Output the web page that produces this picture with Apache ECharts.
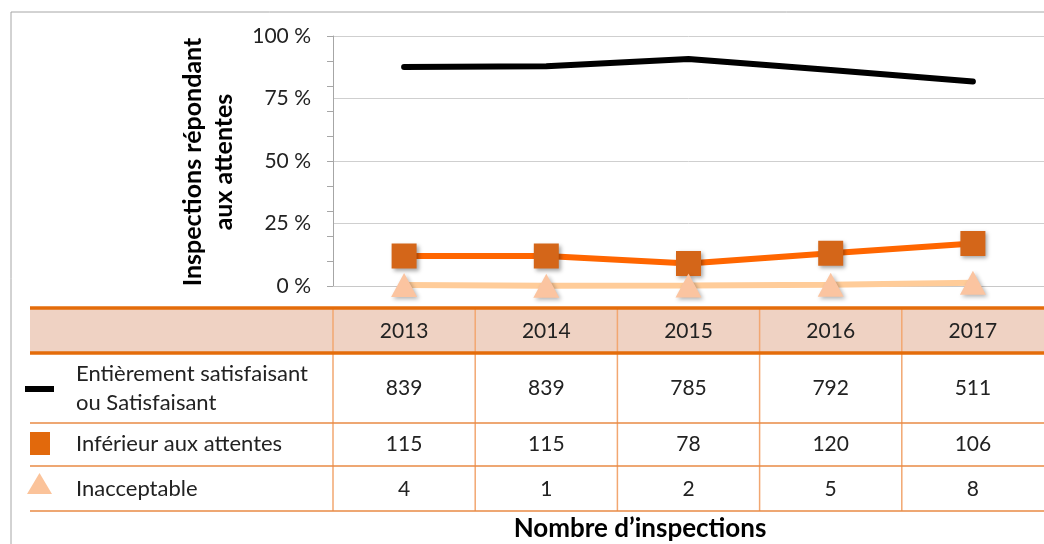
<!DOCTYPE html>
<html>
<head>
<meta charset="utf-8">
<script src="https://cdn.jsdelivr.net/npm/echarts@6/dist/echarts.min.js"></script>
<style>
  html, body { margin:0; padding:0; background:#fff; }
  #main { width:1044px; height:544px; }
</style>
</head>
<body>
<div id="main"></div>
<script>
// categories
const years = ['2013', '2014', '2015', '2016', '2017'];
const rowLabels = [['Entièrement satisfaisant', 'ou Satisfaisant'], ['Inférieur aux attentes'], ['Inacceptable']];
// counts shown in the table
const countSat = [839, 839, 785, 792, 511];
const countInf = [115, 115, 78, 120, 106];
const countInac = [4, 1, 2, 5, 8];
// percentages
const pctSat = [87.6, 87.9, 90.8, 86.4, 81.8];
const pctInf = [12.0, 12.0, 9.0, 13.1, 17.0];
const pctInac = [0.4, 0.1, 0.2, 0.5, 1.3];
const yLabelTicks = [0, 25, 50, 75, 100];

const FONT = 'Lato, "Open Sans", sans-serif';
const ORANGE = '#E46C0A';
const rows = [countSat, countInf, countInac];
// table layout (pixels)
const tTop = 308, tHead = 353, rowY = [388, 444, 489], rowLines = [423, 466, 511];

const chart = echarts.init(document.getElementById('main'));

function renderCell(params, api) {
  const i = api.value(0);
  const cx = api.coord([i, 0])[0];
  const bw = api.size([1, 0])[0];
  const kids = [];
  kids.push({ type:'line', shape:{ x1:cx - bw/2, y1:tTop, x2:cx - bw/2, y2:rowLines[2] }, style:{ stroke:'#F2A771', lineWidth:1.5 } });
  kids.push({ type:'text', style:{ text:years[i], x:cx, y:(tTop + tHead)/2 + 1, align:'center', verticalAlign:'middle', fontSize:21, fontFamily:FONT, fill:'#222' } });
  rows.forEach((r, k) => {
    kids.push({ type:'text', style:{ text:String(r[i]), x:cx, y:rowY[k], align:'center', verticalAlign:'middle', fontSize:21, fontFamily:FONT, fill:'#222' } });
  });
  return { type:'group', children:kids };
}

const labelStyle = { fontSize:22, fontFamily:FONT, fill:'#222', verticalAlign:'middle' };

const graphics = [
  { type:'rect', shape:{ x:11, y:12, width:1100, height:600 }, style:{ fill:'none', stroke:'#A6A6A6', lineWidth:1 }, z:0 },
  { type:'rect', shape:{ x:30, y:tTop, width:1020, height:tHead - tTop }, style:{ fill:'#EFD2C3' }, z:0 },
  { type:'line', shape:{ x1:30, y1:tTop, x2:1050, y2:tTop }, style:{ stroke:ORANGE, lineWidth:3.5 }, z:10 },
  { type:'line', shape:{ x1:30, y1:tHead, x2:1050, y2:tHead }, style:{ stroke:ORANGE, lineWidth:3.5 }, z:10 },
  { type:'line', shape:{ x1:30, y1:rowLines[0], x2:1050, y2:rowLines[0] }, style:{ stroke:'#E98A45', lineWidth:1.5 }, z:10 },
  { type:'line', shape:{ x1:30, y1:rowLines[1], x2:1050, y2:rowLines[1] }, style:{ stroke:'#E98A45', lineWidth:1.5 }, z:10 },
  { type:'line', shape:{ x1:30, y1:rowLines[2], x2:1050, y2:rowLines[2] }, style:{ stroke:'#E98A45', lineWidth:1.5 }, z:10 },
  // legend keys
  { type:'rect', shape:{ x:25, y:386, width:29, height:6 }, style:{ fill:'#000' }, z:10 },
  { type:'rect', shape:{ x:30, y:432, width:20, height:23 }, style:{ fill:'#E2690C' }, z:10 },
  { type:'polygon', shape:{ points:[[39.5, 473], [52, 494], [27, 494]] }, style:{ fill:'#FBC39A' }, z:10 },
  // row labels
  { type:'text', style:Object.assign({ text:rowLabels[0][0], x:76, y:374 }, labelStyle), z:10 },
  { type:'text', style:Object.assign({ text:rowLabels[0][1], x:76, y:403 }, labelStyle), z:10 },
  { type:'text', style:Object.assign({ text:rowLabels[1][0], x:76, y:rowY[1] }, labelStyle), z:10 },
  { type:'text', style:Object.assign({ text:rowLabels[2][0], x:76, y:rowY[2] }, labelStyle), z:10 },
  // titles
  { type:'text', style:{ text:'Nombre d’inspections', x:640, y:529, align:'center', verticalAlign:'middle', fontSize:26, fontWeight:'bold', fontFamily:FONT, fill:'#000' }, z:10 },
  { type:'text', rotation:Math.PI/2, x:208, y:162, style:{ text:'Inspections répondant\naux attentes', align:'center', verticalAlign:'middle', lineHeight:31, fontSize:25, fontWeight:'bold', fontFamily:FONT, fill:'#000' }, z:10 }
];

const option = {
  animation: false,
  textStyle: { fontFamily: FONT },
  grid: { left: 333, right: 0, top: 36, bottom: 258 },
  xAxis: {
    type: 'category', data: years, boundaryGap: true,
    axisLine: { show: true, lineStyle: { color: '#C8C8C8' } },
    axisTick: { show: false }, axisLabel: { show: false }
  },
  yAxis: [
    {
      type: 'value', min: 0, max: 100, interval: 25,
      axisLine: { show: true, lineStyle: { color: '#A6A6A6' } },
      axisTick: { show: false },
      splitLine: { lineStyle: { color: '#CFCFCF', width: 1 } },
      axisLabel: { formatter: v => yLabelTicks.indexOf(v) >= 0 ? v + ' %' : '', fontSize: 21, color: '#222', margin: 22 }
    },
    {
      type: 'value', min: 0, max: 100, interval: 10, position: 'left',
      axisLine: { show: false }, axisLabel: { show: false }, splitLine: { show: false },
      axisTick: { show: true, length: 6, lineStyle: { color: '#A6A6A6' } }
    }
  ],
  graphic: graphics,
  series: [
    { name: 'Entièrement satisfaisant ou Satisfaisant', type: 'line', data: pctSat, symbol: 'none',
      lineStyle: { color: '#000', width: 6, cap: 'round' }, z: 3 },
    { name: 'Inférieur aux attentes', type: 'line', data: pctInf, symbol: 'rect', symbolSize: 25,
      lineStyle: { color: '#FF6600', width: 6 },
      itemStyle: { color: '#D46619', shadowBlur: 4, shadowColor: 'rgba(0,0,0,0.35)', shadowOffsetX: 2, shadowOffsetY: 2 }, z: 4 },
    { name: 'Inacceptable', type: 'line', data: pctInac, symbol: 'triangle', symbolSize: [26, 24],
      lineStyle: { color: '#FFCC99', width: 6 },
      itemStyle: { color: '#FBC4A0', shadowBlur: 4, shadowColor: 'rgba(0,0,0,0.3)', shadowOffsetX: 2, shadowOffsetY: 2 }, z: 5 },
    { type: 'custom', silent: true, clip: false, z: 6,
      data: years.map((y, i) => [i, 0]),
      renderItem: renderCell }
  ]
};
chart.setOption(option);
</script>
</body>
</html>
